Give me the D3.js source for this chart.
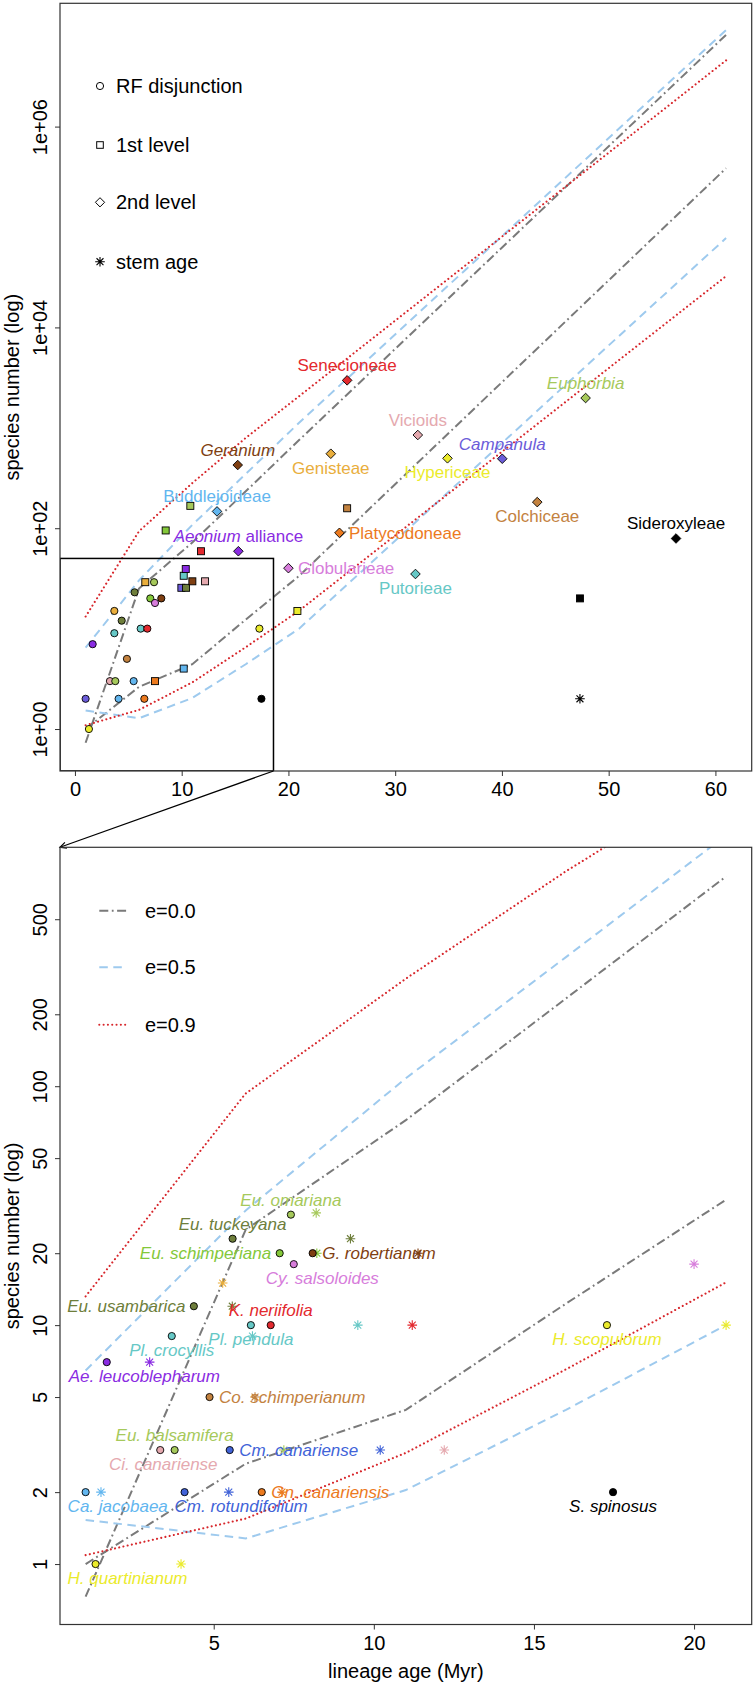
<!DOCTYPE html>
<html><head><meta charset="utf-8">
<script src="https://cdn.jsdelivr.net/npm/d3@7"></script>
<style>
body{margin:0;background:#fff}
svg{display:block}
text{font-family:"Liberation Sans",Arial,Helvetica,sans-serif}
</style>
</head><body>
<svg id="c" width="756" height="1686"></svg>
<script>
// ---------------- DATA ----------------
// envelope curves (expected species number) at lineage ages (Myr)
const envAges = [1, 6, 11, 16, 21, 61];
const e00Upper = [0.73, 25.1, 72.1, 233, 755, 8.2e6];
const e00Lower = [1.0, 2.63, 4.42, 12.3, 33.5, 3.85e5];
const e05Upper = [6.46, 30.2, 108, 347, 1122, 9.16e6];
const e05Lower = [1.53, 1.28, 2.04, 4.42, 10.0, 7.76e4];
const e09Upper = [13.2, 93.3, 282, 794, 2065, 4.57e6];
const e09Lower = [1.09, 1.55, 2.92, 6.53, 15.1, 3.24e4];

// colour keys
const colorKeys = {red:"#E3292E", brown:"#7F3F12", gold:"#E9AE3C", lblue:"#62B6EF", purple:"#8A2BE2",
  orange:"#EC7A1E", orchid:"#D77DDB", pink:"#E5A9AF", yellow:"#EBEB2C", slate:"#6B5CD9", royal:"#4163D8",
  ygreen:"#A6C95B", olive:"#6E7E3B", green:"#84C83A", peru:"#C3823F", turq:"#66C8C6", black:"#000000"};

// top panel: RF disjunctions (circles)
const topRFAge     = [1.0, 1.31, 1.66, 3.28, 3.78, 3.69, 3.69, 4.38, 4.09, 4.87, 5.5, 6.5, 5.59, 6.16, 6.78, 7.41, 7.06, 7.5, 8.09, 17.28, 17.47];
const topRFSpecies = [2, 1, 7, 3, 3, 9, 15, 12, 2, 5, 3, 2, 23, 10, 10, 29, 20, 18, 20, 10, 2];
const topRFColor   = ["slate","yellow","purple","pink","ygreen","turq","gold","olive","lblue","peru","lblue","orange","olive","turq","red","ygreen","green","orchid","brown","yellow","black"];

// top panel: 1st level (squares)
const firstAge     = [6.59, 9.97, 10.41, 10.19, 10.38, 11.0, 12.19, 10.19, 7.5, 11.81, 20.84, 8.5, 10.81, 25.5, 47.31];
const firstSpecies = [29, 25.5, 25.5, 33.6, 39.2, 29.6, 29.6, 4, 3, 59, 15, 95, 167, 158, 20];
const firstColor   = ["gold","slate","olive","turq","purple","brown","pink","lblue","orange","red","yellow","green","ygreen","peru","black"];

// top panel: 2nd level (diamonds) with clade names
const secondName    = ["Senecioneae","Geranium","Genisteae","Buddlejoideae","Aeonium alliance","Platycodoneae","Globularieae","Vicioids","Hypericeae","Campanula","Euphorbia","Colchiceae","Sideroxyleae","Putorieae"];
const secondAge     = [25.5, 15.25, 23.97, 13.31, 15.31, 24.78, 20.0, 32.12, 34.9, 40.03, 47.84, 43.31, 56.31, 31.9];
const secondSpecies = [2970, 426, 552, 147, 59, 90, 40, 848, 497, 492, 1980, 182, 79, 35];
const secondColor   = ["red","brown","gold","lblue","purple","orange","orchid","pink","yellow","slate","ygreen","peru","black","turq"];

// top panel: stem age
const topStemAge = [47.31];
const topStemSpecies = [2];
const topStemColor = ["black"];

// bottom panel: RF disjunctions (circles)
const rfName    = ["Ca. jacobaea","H. quartinianum","Ae. leucoblepharum","Ci. canariense","Eu. balsamifera","Pl. crocyllis","Eu. usambarica","Cm. rotundifolium","Co. schimperianum","Cm. canariense","Gn. canariensis","Eu. tuckeyana","Pl. pendula","K. neriifolia","Eu. omariana","Eu. schimperiana","Cy. salsoloides","G. robertianum","H. scopulorum","S. spinosus"];
const rfAge     = [1.0, 1.31, 1.66, 3.33, 3.78, 3.69, 4.38, 4.09, 4.87, 5.5, 6.5, 5.59, 6.16, 6.78, 7.41, 7.06, 7.5, 8.09, 17.28, 17.47];
const rfSpecies = [2, 1, 7, 3, 3, 9, 12, 2, 5, 3, 2, 23, 10, 10, 29, 20, 18, 20, 10, 2];
const rfColor   = ["lblue","yellow","purple","pink","ygreen","turq","olive","royal","peru","royal","orange","olive","turq","red","ygreen","green","orchid","brown","yellow","black"];

// bottom panel: stem ages (asterisks)
const stemAge     = [1.48, 3.98, 3.0, 5.28, 5.58, 8.2, 9.27, 8.22, 6.21, 6.29, 7.19, 5.47, 7.13, 9.5, 11.2, 10.2, 12.2, 21.0, 11.38, 20.0];
const stemSpecies = [2, 1, 7, 15, 12, 29.5, 23, 20, 9, 5, 3, 2, 2, 10, 10, 3, 3, 10, 20, 18];
const stemColor   = ["lblue","yellow","purple","gold","olive","ygreen","olive","green","turq","peru","ygreen","royal","orange","turq","red","royal","pink","yellow","brown","orchid"];

// tick labels
const topXTicks = [0, 10, 20, 30, 40, 50, 60];
const topYTicks = [1, 1e2, 1e4, 1e6];
const topYTickLabels = ["1e+00","1e+02","1e+04","1e+06"];
const botXTicks = [5, 10, 15, 20];
const botYTicks = [1, 2, 5, 10, 20, 50, 100, 200, 500];

const legendShapes = ["RF disjunction","1st level","2nd level","stem age"];
const legendLines = ["e=0.0","e=0.5","e=0.9"];
const zoomBox = {x1: 18.6, y2: 50};

// ---------------- LAYOUT ----------------
const svg = d3.select("#c");
const P1 = {l:60, r:751.7, t:3.3, b:771};
const P2 = {l:60, r:751.7, t:847.3, b:1624.5};
const xT = d3.scaleLinear().domain([-1.4, 63.4]).range([P1.l, P1.r]);
const yT = d3.scaleLog().domain([Math.pow(10,-0.418), Math.pow(10,7.228)]).range([P1.b, P1.t]);
const xB = d3.scaleLinear().domain([0.2, 21.8]).range([P2.l, P2.r]);
const yB = d3.scaleLog().domain([Math.pow(10,-0.253), 1000]).range([P2.b, P2.t]);

const lineStyles = [
  {key:"e00", up:e00Upper, lo:e00Lower, color:"#7A7A7A", dash:"9,3.5,1.8,3.5", width:2, cap:"butt"},
  {key:"e05", up:e05Upper, lo:e05Lower, color:"#9ECAEE", dash:"8.5,5.5", width:2, cap:"butt"},
  {key:"e09", up:e09Upper, lo:e09Lower, color:"#D7262B", dash:"0.01,4.3", width:2.1, cap:"round"}
];
const col = k => colorKeys[k];

const defs = svg.append("defs");
defs.append("clipPath").attr("id","clip1").append("rect")
  .attr("x",P1.l).attr("y",P1.t).attr("width",P1.r-P1.l).attr("height",P1.b-P1.t);
defs.append("clipPath").attr("id","clip2").append("rect")
  .attr("x",P2.l).attr("y",P2.t).attr("width",P2.r-P2.l).attr("height",P2.b-P2.t);

function drawCurves(g, xs, ys, maxAge){
  lineStyles.forEach(s=>{
    [s.up, s.lo].forEach(arr=>{
      const pts = envAges.map((a,i)=>[a, arr[i]]).filter(p=>p[0]<=maxAge);
      g.append("path").datum(pts)
        .attr("d", d3.line().x(p=>xs(p[0])).y(p=>ys(p[1])))
        .attr("fill","none").attr("stroke",s.color).attr("stroke-width",s.width)
        .attr("stroke-linecap",s.cap).attr("stroke-dasharray",s.dash);
    });
  });
}

const star = r => `M${-r},0H${r}M0,${-r}V${r}M${-r*0.72},${-r*0.72}L${r*0.72},${r*0.72}M${-r*0.72},${r*0.72}L${r*0.72},${-r*0.72}`;
const diamond = r => `M0,${-r}L${r},0L0,${r}L${-r},0Z`;

function drawCircles(g, xs, ys, ages, sp, cols){
  g.selectAll(null).data(ages.map((a,i)=>({a, s:sp[i], c:cols[i]}))).enter().append("circle")
    .attr("cx",d=>xs(d.a)).attr("cy",d=>ys(d.s)).attr("r",3.6)
    .attr("fill",d=>col(d.c)).attr("stroke","#000").attr("stroke-width",0.9);
}
function drawSquares(g, xs, ys, ages, sp, cols){
  g.selectAll(null).data(ages.map((a,i)=>({a, s:sp[i], c:cols[i]}))).enter().append("rect")
    .attr("x",d=>xs(d.a)-3.5).attr("y",d=>ys(d.s)-3.5).attr("width",7).attr("height",7)
    .attr("fill",d=>col(d.c)).attr("stroke","#000").attr("stroke-width",0.9);
}
function drawDiamonds(g, xs, ys, ages, sp, cols){
  g.selectAll(null).data(ages.map((a,i)=>({a, s:sp[i], c:cols[i]}))).enter().append("path")
    .attr("transform",d=>`translate(${xs(d.a)},${ys(d.s)})`).attr("d",diamond(4.8))
    .attr("fill",d=>col(d.c)).attr("stroke","#000").attr("stroke-width",0.9);
}
function drawStars(g, xs, ys, ages, sp, cols){
  g.selectAll(null).data(ages.map((a,i)=>({a, s:sp[i], c:cols[i]}))).enter().append("path")
    .attr("transform",d=>`translate(${xs(d.a)},${ys(d.s)})`).attr("d",star(4.8))
    .attr("fill","none").attr("stroke",d=>col(d.c)).attr("stroke-width",1.1);
}

function frame(P){
  svg.append("rect").attr("x",P.l).attr("y",P.t).attr("width",P.r-P.l).attr("height",P.b-P.t)
    .attr("fill","none").attr("stroke","#333").attr("stroke-width",1.2);
}
function styleAxis(g){
  g.select(".domain").remove();
  g.selectAll(".tick line").attr("stroke","#333").attr("stroke-width",1);
  g.selectAll(".tick text").attr("font-size",20).attr("fill","#000")
    .attr("font-family",'"Liberation Sans",Arial,Helvetica,sans-serif');
}

// ---------------- TOP PANEL ----------------
const g1 = svg.append("g");
const c1 = g1.append("g").attr("clip-path","url(#clip1)");
drawCurves(c1, xT, yT, 100);

// zoom box
c1.append("rect")
  .attr("x", xT(xT.domain()[0])).attr("y", yT(zoomBox.y2))
  .attr("width", xT(zoomBox.x1)-xT(xT.domain()[0])).attr("height", yT(yT.domain()[0]) - yT(zoomBox.y2))
  .attr("fill","none").attr("stroke","#000").attr("stroke-width",1.5);

drawCircles(c1, xT, yT, topRFAge, topRFSpecies, topRFColor);
drawSquares(c1, xT, yT, firstAge, firstSpecies, firstColor);
drawDiamonds(c1, xT, yT, secondAge, secondSpecies, secondColor);
drawStars(c1, xT, yT, topStemAge, topStemSpecies, topStemColor);

// top labels: pos 1 below, 2 left, 3 above, 4 right
const topLabelPos = {"Senecioneae":3,"Geranium":3,"Genisteae":1,"Buddlejoideae":3,"Aeonium alliance":3,
  "Platycodoneae":4,"Globularieae":4,"Vicioids":3,"Hypericeae":1,"Campanula":3,"Euphorbia":3,
  "Colchiceae":1,"Sideroxyleae":3,"Putorieae":1};
const italicNames = {"Geranium":true,"Campanula":true,"Euphorbia":true};

function placeLabel(g, px, py, pos, layout){
  layout = layout || {};
  let x = px, y, anchor = "middle";
  if(pos===3){ y = py - 9; }
  else if(pos===1){ y = py + 20; }
  else if(pos===2){ x = px - 8.5; y = py + 6; anchor = "end"; }
  else { x = px + 9.5; y = py + 6; anchor = "start"; }
  if(layout.anchor){ anchor = layout.anchor; }
  if(layout.dx!==undefined){ x = px + layout.dx; }
  return g.append("text").attr("x",x).attr("y",y).attr("text-anchor",anchor).attr("font-size",17);
}

secondName.forEach((n,i)=>{
  const t = placeLabel(g1, xT(secondAge[i]), yT(secondSpecies[i]), topLabelPos[n]).attr("fill", col(secondColor[i]));
  if(n==="Aeonium alliance"){
    t.append("tspan").attr("font-style","italic").text("Aeonium");
    t.append("tspan").text(" alliance");
  } else {
    t.text(n).attr("font-style", italicNames[n] ? "italic" : "normal");
  }
});

// top legend (symbols)
const legY1 = [86, 145, 202.3, 261.7];
legendShapes.forEach((lab,i)=>{
  const y = legY1[i], x = 100;
  if(i===0) g1.append("circle").attr("cx",x).attr("cy",y).attr("r",3.6).attr("fill","none").attr("stroke","#000").attr("stroke-width",1);
  if(i===1) g1.append("rect").attr("x",x-3.3).attr("y",y-3.3).attr("width",6.6).attr("height",6.6).attr("fill","none").attr("stroke","#000").attr("stroke-width",1);
  if(i===2) g1.append("path").attr("transform",`translate(${x},${y})`).attr("d",diamond(4.6)).attr("fill","none").attr("stroke","#000").attr("stroke-width",1);
  if(i===3) g1.append("path").attr("transform",`translate(${x},${y})`).attr("d",star(4.8)).attr("fill","none").attr("stroke","#000").attr("stroke-width",1.1);
  g1.append("text").attr("x",116).attr("y",y+7).attr("font-size",20).text(lab);
});

frame(P1);
const ax1 = g1.append("g").attr("transform",`translate(0,${P1.b})`)
  .call(d3.axisBottom(xT).tickValues(topXTicks).tickFormat(d3.format("d")).tickSize(5).tickPadding(4));
styleAxis(ax1);
ax1.selectAll(".tick text").attr("dy",null).attr("y",25);
const ay1 = g1.append("g").attr("transform",`translate(${P1.l},0)`)
  .call(d3.axisLeft(yT).tickValues(topYTicks).tickFormat((d,i)=>topYTickLabels[i]).tickSize(5));
styleAxis(ay1);
ay1.selectAll(".tick text").attr("x",null).attr("dy",null).attr("text-anchor","middle")
  .attr("transform","translate(-13.3,0) rotate(-90)");
g1.append("text").attr("transform",`translate(19,${(P1.t+P1.b)/2}) rotate(-90)`)
  .attr("text-anchor","middle").attr("font-size",20).text("species number (log)");

// arrow from zoom box to bottom panel
const ax0 = xT(zoomBox.x1), ay0 = P1.b;
const ax9 = P2.l, ay9 = P2.t;
svg.append("line").attr("x1",ax0).attr("y1",ay0).attr("x2",ax9).attr("y2",ay9)
  .attr("stroke","#000").attr("stroke-width",1.2);
{
  const ang = Math.atan2(ay9-ay0, ax9-ax0), L = 7, sp = 0.45;
  const p1 = [ax9 - L*Math.cos(ang-sp), ay9 - L*Math.sin(ang-sp)];
  const p2 = [ax9 - L*Math.cos(ang+sp), ay9 - L*Math.sin(ang+sp)];
  svg.append("path").attr("d",`M${p1[0]},${p1[1]}L${ax9},${ay9}L${p2[0]},${p2[1]}`)
    .attr("fill","none").attr("stroke","#000").attr("stroke-width",1.2);
}

// ---------------- BOTTOM PANEL ----------------
const g2 = svg.append("g");
const c2 = g2.append("g").attr("clip-path","url(#clip2)");
drawCurves(c2, xB, yB, 21);
drawStars(c2, xB, yB, stemAge, stemSpecies, stemColor);
drawCircles(c2, xB, yB, rfAge, rfSpecies, rfColor);

const botLabelLayout = {
  "Eu. omariana":{pos:3}, "Eu. tuckeyana":{pos:3}, "Eu. schimperiana":{pos:2}, "G. robertianum":{pos:4},
  "Cy. salsoloides":{pos:1, anchor:"start", dx:-28}, "Eu. usambarica":{pos:2}, "K. neriifolia":{pos:3},
  "Pl. pendula":{pos:1}, "Pl. crocyllis":{pos:1}, "Ae. leucoblepharum":{pos:1, anchor:"start", dx:-38},
  "Co. schimperianum":{pos:4}, "Eu. balsamifera":{pos:3}, "Ci. canariense":{pos:1, dx:3},
  "Cm. canariense":{pos:4}, "Ca. jacobaea":{pos:1, anchor:"start", dx:-18},
  "Cm. rotundifolium":{pos:1, anchor:"start", dx:-10}, "Gn. canariensis":{pos:4},
  "H. quartinianum":{pos:1, anchor:"start", dx:-28}, "H. scopulorum":{pos:1}, "S. spinosus":{pos:1}
};
rfName.forEach((n,i)=>{
  const L = botLabelLayout[n];
  placeLabel(g2, xB(rfAge[i]), yB(rfSpecies[i]), L.pos, L)
    .attr("fill", col(rfColor[i])).attr("font-style","italic").text(n);
});

// bottom legend
const legY2 = [910.7, 967.3, 1024.7];
lineStyles.forEach((s,i)=>{
  g2.append("line").attr("x1",99.3).attr("x2",126.7).attr("y1",legY2[i]).attr("y2",legY2[i])
    .attr("stroke",s.color).attr("stroke-width",s.width).attr("stroke-linecap",s.cap)
    .attr("stroke-dasharray",s.dash);
  g2.append("text").attr("x",145).attr("y",legY2[i]+7).attr("font-size",20).text(legendLines[i]);
});

frame(P2);
const ax2 = g2.append("g").attr("transform",`translate(0,${P2.b})`)
  .call(d3.axisBottom(xB).tickValues(botXTicks).tickFormat(d3.format("d")).tickSize(5));
styleAxis(ax2);
ax2.selectAll(".tick text").attr("dy",null).attr("y",25);
const ay2 = g2.append("g").attr("transform",`translate(${P2.l},0)`)
  .call(d3.axisLeft(yB).tickValues(botYTicks).tickFormat(d3.format("d")).tickSize(5));
styleAxis(ay2);
ay2.selectAll(".tick text").attr("x",null).attr("dy",null).attr("text-anchor","middle")
  .attr("transform","translate(-13.3,0) rotate(-90)");
g2.append("text").attr("transform",`translate(19,${(P2.t+P2.b)/2}) rotate(-90)`)
  .attr("text-anchor","middle").attr("font-size",20).text("species number (log)");
g2.append("text").attr("x",(P2.l+P2.r)/2).attr("y",1678).attr("text-anchor","middle")
  .attr("font-size",20).text("lineage age (Myr)");
</script>
</body></html>
